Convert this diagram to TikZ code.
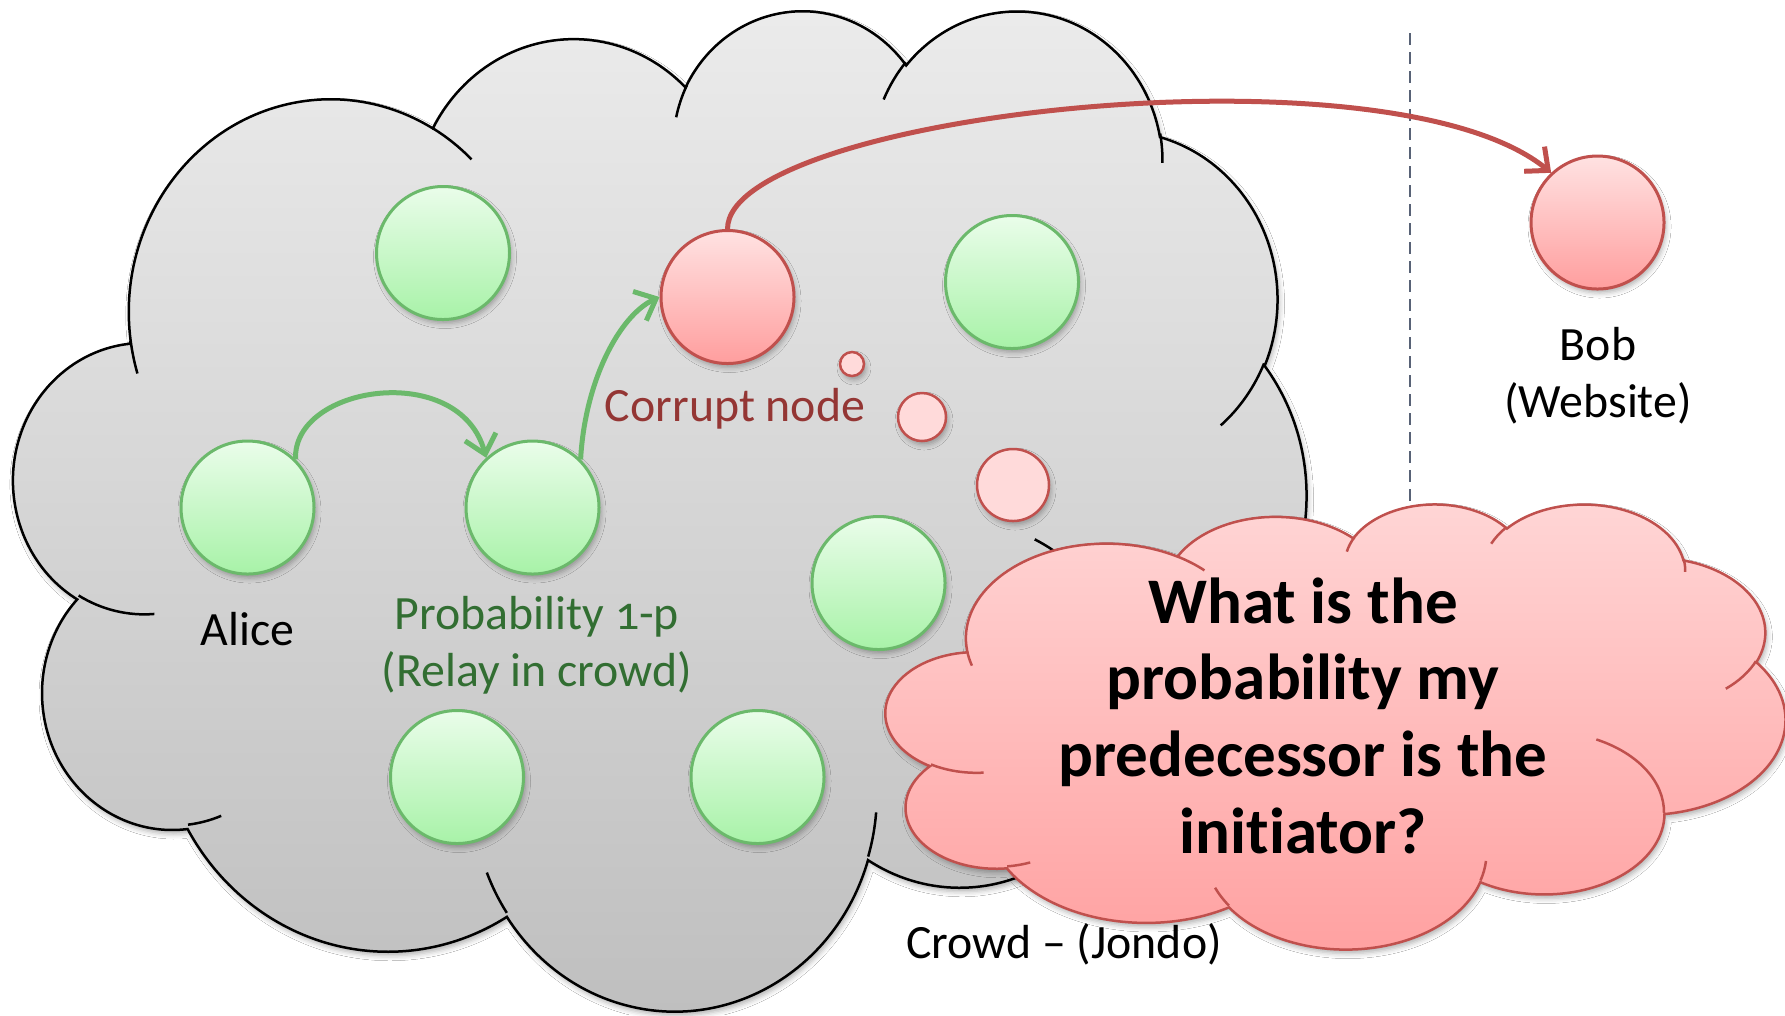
\documentclass[tikz,border=0pt]{standalone}
\usepackage{fontspec}
\setmainfont{Carlito}[Ligatures={NoCommon,NoContextual}]
\usetikzlibrary{arrows.meta,shadows.blur}

\definecolor{greenline}{RGB}{107,185,107}
\definecolor{greentop}{RGB}{234,253,234}
\definecolor{greenbot}{RGB}{168,242,168}
\definecolor{redline}{RGB}{192,80,77}
\definecolor{redtop}{RGB}{255,226,226}
\definecolor{redbot}{RGB}{255,158,158}
\definecolor{bubblefill}{RGB}{255,218,218}
\definecolor{graytop}{RGB}{236,236,236}
\definecolor{graybot}{RGB}{190,190,190}
\definecolor{pinktop}{RGB}{255,214,214}
\definecolor{pinkbot}{RGB}{255,160,160}
\definecolor{corrupttext}{RGB}{148,54,52}
\definecolor{greentext}{RGB}{50,110,50}
\definecolor{dashline}{RGB}{88,98,118}

% Cloud outline on a 432 x 432 grid (y grows downwards), built from
% elliptical arcs whose angles are visual angles; they are turned into
% the parametric angles that TikZ's arc operation expects.
\newcommand\cldacc{}
\newcommand\addcloudarc[4]{%
  \pgfmathsetmacro\cldS{atan2((#1)*sin(#3),(#2)*cos(#3))}%
  \pgfmathsetmacro\cldE{atan2((#1)*sin((#3)+(#4)),(#2)*cos((#3)+(#4)))}%
  \pgfmathsetmacro\cldD{\cldE-\cldS}%
  \pgfmathsetmacro\cldD{\cldD-360*round((\cldD-(#4))/360)}%
  \xdef\cldacc{\cldacc arc[x radius=#1,y radius=#2,start angle=\cldS,delta angle=\cldD]}%
}
% outer outline, starting at (39.00,143.70)
\xdef\cldacc{(39.00,143.70)}
\addcloudarc{67.53}{91.90}{-190.4875}{123.7805}
\addcloudarc{53.33}{72.67}{-144.1024}{89.9452}
\addcloudarc{43.65}{59.45}{-145.8079}{99.7230}
\addcloudarc{48.57}{65.95}{-130.9861}{117.2417}
\addcloudarc{53.33}{72.73}{-78.7089}{109.0269}
\addcloudarc{67.75}{92.20}{-46.2673}{130.2690}
\addcloudarc{57.85}{78.67}{0.6250}{114.0333}
\addcloudarc{67.52}{92.15}{22.4516}{115.1726}
\addcloudarc{77.20}{105.43}{66.2426}{75.7110}
\addcloudarc{43.60}{59.18}{-274.9421}{146.7356}
\addcloudarc{43.45}{59.45}{-246.8285}{152.5189}
\let\cloudoutline\cldacc
% short inner strokes between the lobes
\xdef\cldacc{(46.93,261.77)}
\addcloudarc{43.45}{59.45}{86.7420}{26.4295}
\xdef\cldacc{\cldacc (69.28,348.99)}
\addcloudarc{43.60}{59.18}{73.6105}{11.4475}
\xdef\cldacc{\cldacc (164.78,390.90)}
\addcloudarc{67.52}{92.15}{137.6242}{14.0811}
\xdef\cldacc{\cldacc (288.27,347.51)}
\addcloudarc{67.52}{92.15}{6.4533}{15.9984}
\xdef\cldacc{\cldacc (341.29,229.54)}
\addcloudarc{57.85}{78.67}{-70.2924}{70.9174}
\xdef\cldacc{\cldacc (417.98,153.54)}
\addcloudarc{53.33}{72.73}{30.3180}{27.7515}
\xdef\cldacc{\cldacc (383.24,54.26)}
\addcloudarc{48.57}{65.95}{-13.7443}{14.8589}
\xdef\cldacc{\cldacc (290.78,39.52)}
\addcloudarc{48.57}{65.95}{-149.1815}{18.1954}
\xdef\cldacc{\cldacc (221.41,47.20)}
\addcloudarc{43.65}{59.45}{-163.4943}{17.6864}
\xdef\cldacc{\cldacc (140.00,51.92)}
\addcloudarc{67.53}{91.90}{-66.7070}{12.3194}
\xdef\cldacc{\cldacc (41.27,157.89)}
\addcloudarc{67.53}{91.90}{157.6544}{11.8582}
\let\cloudstrokes\cldacc

\tikzset{
  softshadow/.style={blur shadow={shadow xshift=0.02cm, shadow yshift=-0.04cm,
      shadow blur radius=0.05cm, shadow opacity=30}},
  ball/.style={circle, minimum size=1.33cm, inner sep=0pt, line width=0.03cm, softshadow},
  greenball/.style={ball, draw=greenline, top color=greentop, bottom color=greenbot},
  redball/.style={ball, draw=redline, top color=redtop, bottom color=redbot},
  bubble/.style={circle, inner sep=0pt, line width=0.025cm, draw=redline,
      fill=bubblefill, softshadow},
  lbltext/.style={inner sep=0pt, anchor=base, align=center,
      font=\fontsize{13.6pt}{16pt}\selectfont},
  greenflow/.style={draw=greenline, line width=0.05cm,
      -{Straight Barb[length=0.18cm, width=0.32cm]}},
  redflow/.style={draw=redline, line width=0.05cm,
      -{Straight Barb[length=0.18cm, width=0.32cm]}},
  crowdcloud/.style={line width=0.025cm, draw=black, top color=graytop,
      bottom color=graybot, softshadow},
  thoughtcloud/.style={line width=0.025cm, draw=redline, top color=pinktop,
      bottom color=pinkbot, softshadow},
}

\begin{document}
\begin{tikzpicture}
  \useasboundingbox[fill=white] (0,0) rectangle (17.85,-10.15);

  % the crowd
  \begin{scope}[shift={(0.14,-0.08)}, x=0.029907cm, y=-0.023148cm]
    \path[crowdcloud] \cloudoutline -- cycle;
    \draw[line width=0.025cm, black] \cloudstrokes;
  \end{scope}

  % members of the crowd
  \node[greenball] (gtop)   at (4.43,-2.53) {};
  \node[greenball] (alice)  at (2.475,-5.075) {};
  \node[greenball] (relay)  at (5.325,-5.075) {};
  \node[greenball] (gright) at (10.12,-2.82) {};
  \node[greenball] (gmid)   at (8.785,-5.83) {};
  \node[greenball] (gbl)    at (4.57,-7.77) {};
  \node[greenball] (gbr)    at (7.575,-7.77) {};
  \node[redball]   (corrupt) at (7.275,-2.97) {};
  \node[redball]   (bob)     at (15.975,-2.225) {};

  % thought bubbles rising from the corrupt node
  \node[bubble, minimum size=0.24cm] (bub1) at (8.52,-3.64) {};
  \node[bubble, minimum size=0.48cm] (bub2) at (9.22,-4.17) {};
  \node[bubble, minimum size=0.72cm] (bub3) at (10.13,-4.85) {};

  % border of the crowd
  \coordinate (bordertop) at (14.10,-0.33);
  \coordinate (borderbot) at (14.10,-5.10);
  \draw[dashline, line width=0.028cm, dash pattern=on 0.12cm off 0.07cm]
    (bordertop) -- (borderbot);

  % path of the request
  \draw[greenflow] (alice.45) .. controls (2.92,-3.85) and (4.60,-3.60) .. (relay.133);
  \draw[greenflow] (relay.45) .. controls (5.85,-3.80) and (6.20,-3.15) .. (corrupt.west);
  \draw[redflow] (corrupt.north) .. controls (7.275,-1.15) and (13.90,-0.40) .. (bob.133);

  % labels (the base anchor sits on the last line)
  \node[lbltext] (alicetxt) at (2.475,-6.45) {Alice};
  \node[lbltext, text=greentext] (relaytxt) at (5.37,-6.86)
    {Probability {\addfontfeatures{Numbers=OldStyle}1}-p\\(Relay in crowd)};
  \node[lbltext, text=corrupttext] (corrupttxt) at (7.35,-4.21) {Corrupt node};
  \node[lbltext] (bobtxt) at (15.98,-4.17) {Bob\\(Website)};

  % the corrupt node's question
  \begin{scope}[shift={(8.86,-5.03)}, x=0.020810cm, y=-0.010301cm]
    \path[thoughtcloud] \cloudoutline -- cycle;
    \draw[line width=0.025cm, redline] \cloudstrokes;
  \end{scope}
  \node[inner sep=0pt, anchor=base, align=center,
        font=\bfseries\fontsize{18.5pt}{21.8pt}\selectfont]
    (question) at (13.03,-8.53)
    {What is the\\probability my\\predecessor is the\\initiator?};

  \node[lbltext] (crowdtxt) at (10.64,-9.58) {Crowd – (Jondo)};
\end{tikzpicture}
\end{document}
